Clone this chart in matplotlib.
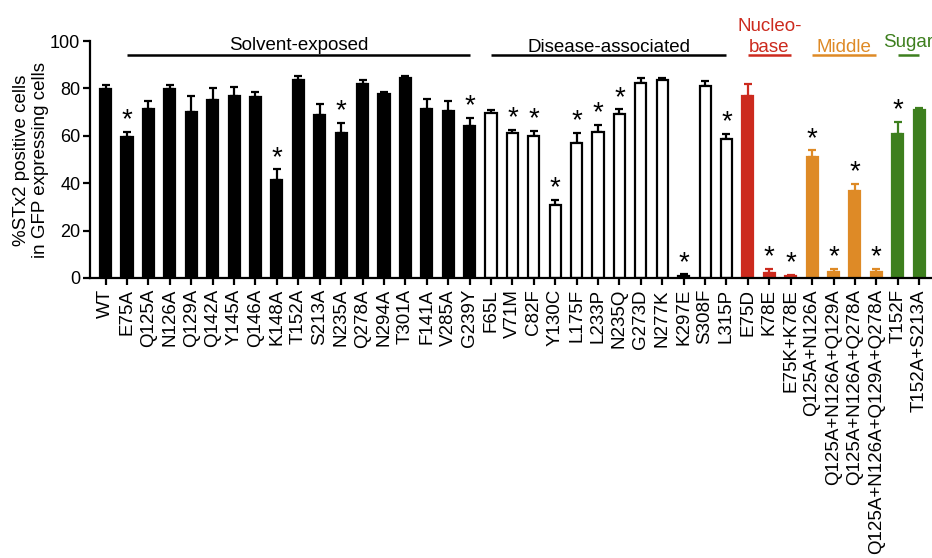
import matplotlib
matplotlib.use("Agg")
import matplotlib.pyplot as plt
import numpy as np

plt.rcParams['font.family'] = ['Liberation Sans', 'DejaVu Sans']

labels = ["WT", "E75A", "Q125A", "N126A", "Q129A", "Q142A", "Y145A", "Q146A", "K148A",
          "T152A", "S213A", "N235A", "Q278A", "N294A", "T301A", "F141A", "V285A", "G239Y",
          "F65L", "V71M", "C82F", "Y130C", "L175F", "L233P", "N235Q", "G273D", "N277K",
          "K297E", "S308F", "L315P",
          "E75D", "K78E", "E75K+K78E",
          "Q125A+N126A", "Q125A+N126A+Q129A", "Q125A+N126A+Q278A", "Q125A+N126A+Q129A+Q278A",
          "T152F", "T152A+S213A"]
values = [79.6, 59.6, 71.3, 79.6, 70.0, 75.1, 76.8, 76.3, 41.3,
          83.4, 68.9, 61.0, 82.0, 77.5, 84.5, 71.5, 70.3, 64.1,
          69.6, 61.1, 59.9, 30.7, 56.9, 61.5, 69.0, 82.4, 83.4,
          1.0, 81.0, 58.5,
          77.0, 2.0, 0.8,
          51.0, 2.4, 36.9, 2.4,
          60.8, 70.7]
errors = [1.8, 2.2, 3.5, 1.9, 6.6, 4.9, 3.9, 2.3, 4.5,
          1.8, 4.6, 4.5, 1.7, 1.1, 0.9, 3.9, 4.5, 3.4,
          1.2, 1.3, 2.1, 2.1, 4.2, 3.0, 2.1, 2.0, 1.1,
          0.5, 2.1, 2.2,
          4.7, 1.7, 0.5,
          2.8, 1.5, 2.7, 1.4,
          5.0, 1.0]
significant = ["E75A", "K148A", "N235A", "G239Y", "V71M", "C82F", "Y130C", "L175F",
               "L233P", "N235Q", "K297E", "L315P", "K78E", "E75K+K78E", "Q125A+N126A",
               "Q125A+N126A+Q129A", "Q125A+N126A+Q278A", "Q125A+N126A+Q129A+Q278A", "T152F"]
group_names = ["Solvent-exposed", "Disease-associated", "Nucleo-\nbase", "Middle", "Sugar"]
group_sizes = [18, 12, 3, 4, 2]

RED = "#cc2a1e"
ORANGE = "#de8a26"
GREEN = "#3d7f1e"

fig = plt.figure(figsize=(9.32, 5.58), dpi=100)
ax = fig.add_axes([90/932, 280/558, 1 - 90/932, (517-280)/558])

x = np.arange(len(labels))
# style per bar
face = []
edge = []
for gi, n in enumerate(group_sizes):
    if gi == 0:
        f, e = "black", "black"
    elif gi == 1:
        f, e = "white", "black"
    elif gi == 2:
        f, e = RED, RED
    elif gi == 3:
        f, e = ORANGE, ORANGE
    else:
        f, e = GREEN, GREEN
    face += [f] * n
    edge += [e] * n

ax.bar(x, values, width=0.52, color=face, edgecolor=edge, linewidth=1.6, zorder=2)
for i in range(len(x)):
    ax.errorbar(x[i], values[i], yerr=[[0], [errors[i]]], fmt='none', ecolor=edge[i],
                elinewidth=1.6, capsize=3, capthick=1.6, zorder=1)
    if labels[i] in significant:
        ax.text(x[i], values[i] + errors[i] + 2.0, "*", ha='center', va='baseline',
                fontsize=20, color='black')

ax.set_xlim(-0.73, 38.6)
ax.set_ylim(0, 100)
ax.set_yticks([0, 20, 40, 60, 80, 100])
ax.set_xticks(x)
ax.set_xticklabels(labels, rotation=90, fontsize=13.5)
ax.tick_params(axis='y', labelsize=13, width=1.6, length=5, pad=2)
ax.tick_params(axis='x', width=1.6, length=5, pad=3)
for s in ['top', 'right']:
    ax.spines[s].set_visible(False)
for s in ['left', 'bottom']:
    ax.spines[s].set_linewidth(1.6)

fig.text(31/932, 1 - 160/558, "%STx2 positive cells\nin GFP expressing cells",
         rotation=90, ha='center', va='center', fontsize=13.5, multialignment='center',
         linespacing=1.1)

# group headers
starts = np.cumsum([0] + group_sizes[:-1])
ends = starts + np.array(group_sizes) - 1
line_start = [1, starts[1], starts[2], starts[3], starts[4]]
colors = ["black", "black", RED, ORANGE, GREEN]
baselines = [96.1, 95.4, 95.4, 95.4, 97.3]
for gi, name in enumerate(group_names):
    a, b = line_start[gi], ends[gi]
    ax.plot([a, b], [94.0, 94.0], color=colors[gi], lw=1.8, clip_on=False,
            solid_capstyle='butt')
    cx = (a + b) / 2
    if gi == 4:
        cx = 37.5
    ax.text(cx, baselines[gi], name, ha='center', va='baseline', fontsize=13.5,
            color=colors[gi], linespacing=1.3, clip_on=False)

fig.savefig("out.png", dpi=100)
